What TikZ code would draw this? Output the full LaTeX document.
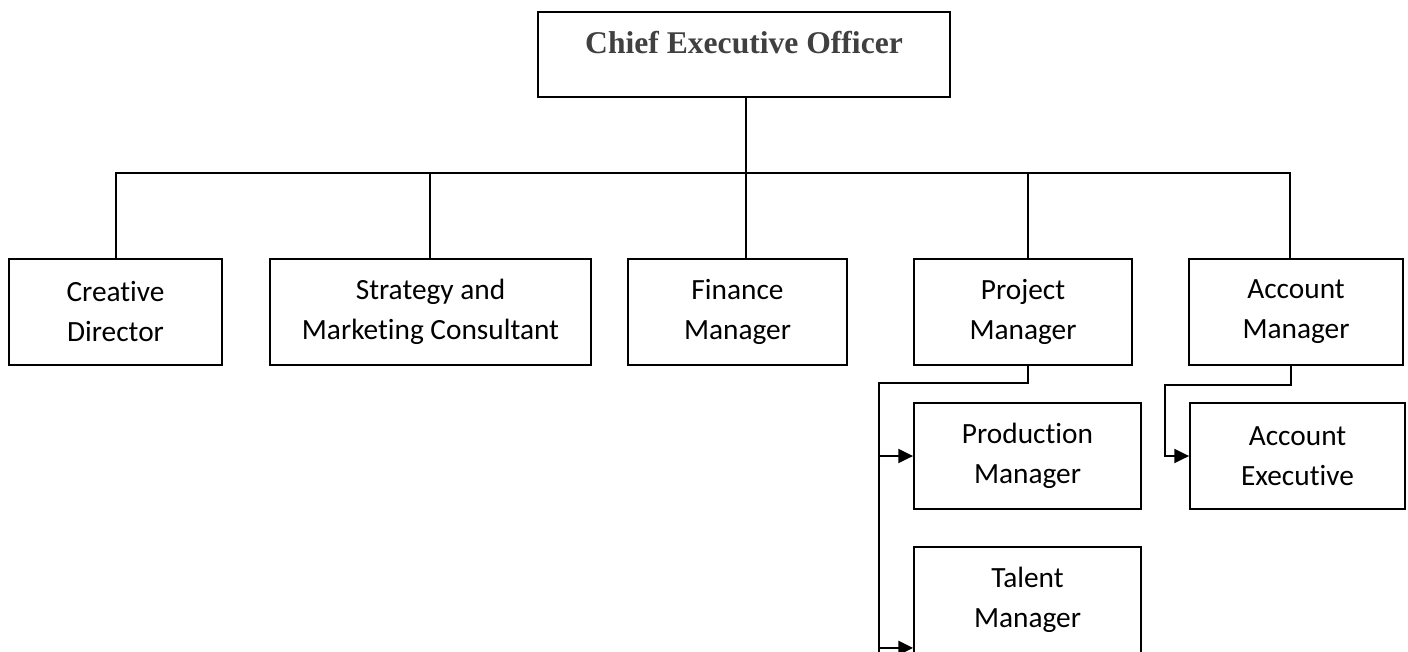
\documentclass[tikz,border=0pt]{standalone}
\usepackage{fontspec}
\setmainfont{Carlito}[Ligatures=NoCommon]
\newfontfamily\ceofont{Liberation Serif}
\usetikzlibrary{arrows.meta}

\begin{document}
\begin{tikzpicture}[x=0.75pt,y=-0.75pt,line width=1.4pt,
		post/.style={draw,align=center,inner sep=0pt,minimum height=79.5pt,font=\fontsize{22}{30}\selectfont},
		feed/.style={-{Triangle[length=11pt,width=10.5pt]}}]
		\useasboundingbox (0,0) rectangle (1408,652);
		
		\node[draw,inner sep=0pt,minimum width=309pt,text height=31pt,text depth=33pt,text=black!75,font=\ceofont\bfseries\fontsize{23.7}{28}\selectfont] (ceo) at (744,54.5) {Chief Executive Officer};
		
		\node[post,minimum width=159.75pt] (creative) at (115.5,312) {Creative\\Director};
		\node[post,minimum width=240.75pt] (strategy) at (430.5,312) {Strategy and\\Marketing Consultant};
		\node[post,minimum width=164.25pt] (finance) at (737.5,312) {Finance\\Manager};
		\node[post,minimum width=163.5pt] (project) at (1023,312) {Project\\Manager};
		\node[post,minimum width=160.5pt] (account) at (1296,312) {Account\\Manager};
		\node[post,minimum width=170.25pt] (production) at (1027.5,456) {Production\\Manager};
		\node[post,minimum width=170.25pt] (talent) at (1027.5,600) {Talent\\Manager};
		\node[post,minimum width=161.25pt] (executive) at (1297.5,456) {Account\\Executive};
		
		\coordinate (bus) at (746,173);
		\coordinate (pmrail) at (879,383);
		\coordinate (railend) at (879,660);
		\coordinate (amrail) at (1165,385);
		\coordinate (talentin) at ([yshift=4.5pt]talent.south west);
		
		\draw ([xshift=0.4pt]creative.north) |- (bus) -| ([xshift=-4.5pt]account.north);
		\draw ([xshift=1.5pt]ceo.south) -- (bus);
		\foreach \b/\s in {strategy/-0.4,finance/6.4,project/3.75}
			\draw ([xshift=\s pt]\b.north) -- ([xshift=\s pt]\b.north |- bus);
		
		\draw ([xshift=3.75pt]project.south) |- (pmrail) -- (railend);
		\draw[feed] (production.west -| pmrail) -- (production.west);
		\draw[feed] (talentin -| pmrail) -- (talentin);
		\draw[feed] ([xshift=-3.75pt]account.south) |- (amrail) |- (executive.west);
	\end{tikzpicture}
\end{document}
